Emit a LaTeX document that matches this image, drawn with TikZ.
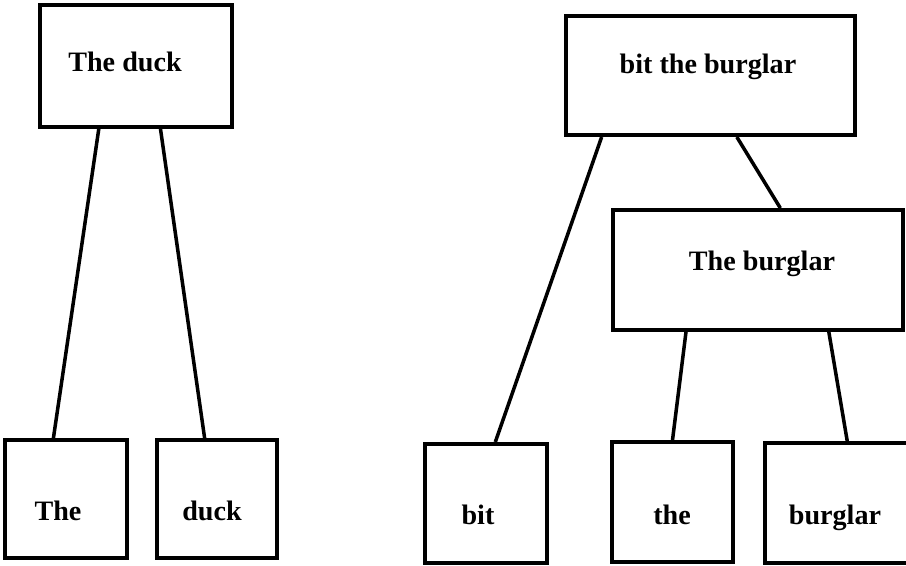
\documentclass[tikz,border=0pt]{standalone}
\usepackage{fontspec}
\setmainfont{Liberation Serif}
\usetikzlibrary{calc}
\tikzset{box/.style={draw,line width=2.7pt,inner sep=0pt},
  word/.style={anchor=base,font=\fontsize{20}{24}\selectfont\bfseries},
  edge/.style={line width=2.5pt}}
\begin{document}
\begin{tikzpicture}[x=0.025cm,y=-0.025cm]
\useasboundingbox (0,0) rectangle (906,565);
% left tree
\node[box,minimum width=4.8cm,minimum height=3.05cm] (dk) at (136,66) {};
\node[word] (dkw) at (125,72) {The duck};
\node[box,minimum width=3.05cm,minimum height=2.95cm] (the) at (66,499) {};
\node[word] (thew) at (58,520) {The};
\node[box,minimum width=3cm,minimum height=2.95cm] (duck) at (217,499) {};
\node[word] (duckw) at (212,520) {duck};
%
\draw[edge] ($(dk.south west)!.31!(dk.south east)$) -- ($(the.north west)!.40!(the.north east)$);
\draw[edge] ($(dk.south west)!.625!(dk.south east)$) -- ($(duck.north west)!.40!(duck.north east)$);
% right tree
\node[box,minimum width=7.22cm,minimum height=2.98cm] (btb) at (710.5,75.5) {};
\node[word] (btbw) at (708,73) {bit the burglar};
\node[box,minimum width=7.25cm,minimum height=3cm] (tb) at (758,270) {};
\node[word] (tbw) at (762,270) {The burglar};
\node[box,minimum width=3.05cm,minimum height=2.98cm] (bit) at (486,503.5) {};
\node[word] (bitw) at (478,524) {bit};
\node[box,minimum width=3.02cm,minimum height=3cm] (the2) at (672.5,502) {};
\node[word] (the2w) at (672,524) {the};
\node[box,minimum width=3.75cm,minimum height=3cm] (burg) at (840,503) {};
\node[word] (burgw) at (835,524) {burglar};
%
\draw[edge] ($(btb.south west)!.128!(btb.south east)$) -- ($(bit.north west)!.574!(bit.north east)$);
\draw[edge] ($(btb.south west)!.59!(btb.south east)$) -- ($(tb.north west)!.576!(tb.north east)$);
\draw[edge] ($(tb.south west)!.255!(tb.south east)$) -- (the2.north);
\draw[edge] ($(tb.south west)!.741!(tb.south east)$) -- ($(burg.north west)!.547!(burg.north east)$);
\end{tikzpicture}
\end{document}
